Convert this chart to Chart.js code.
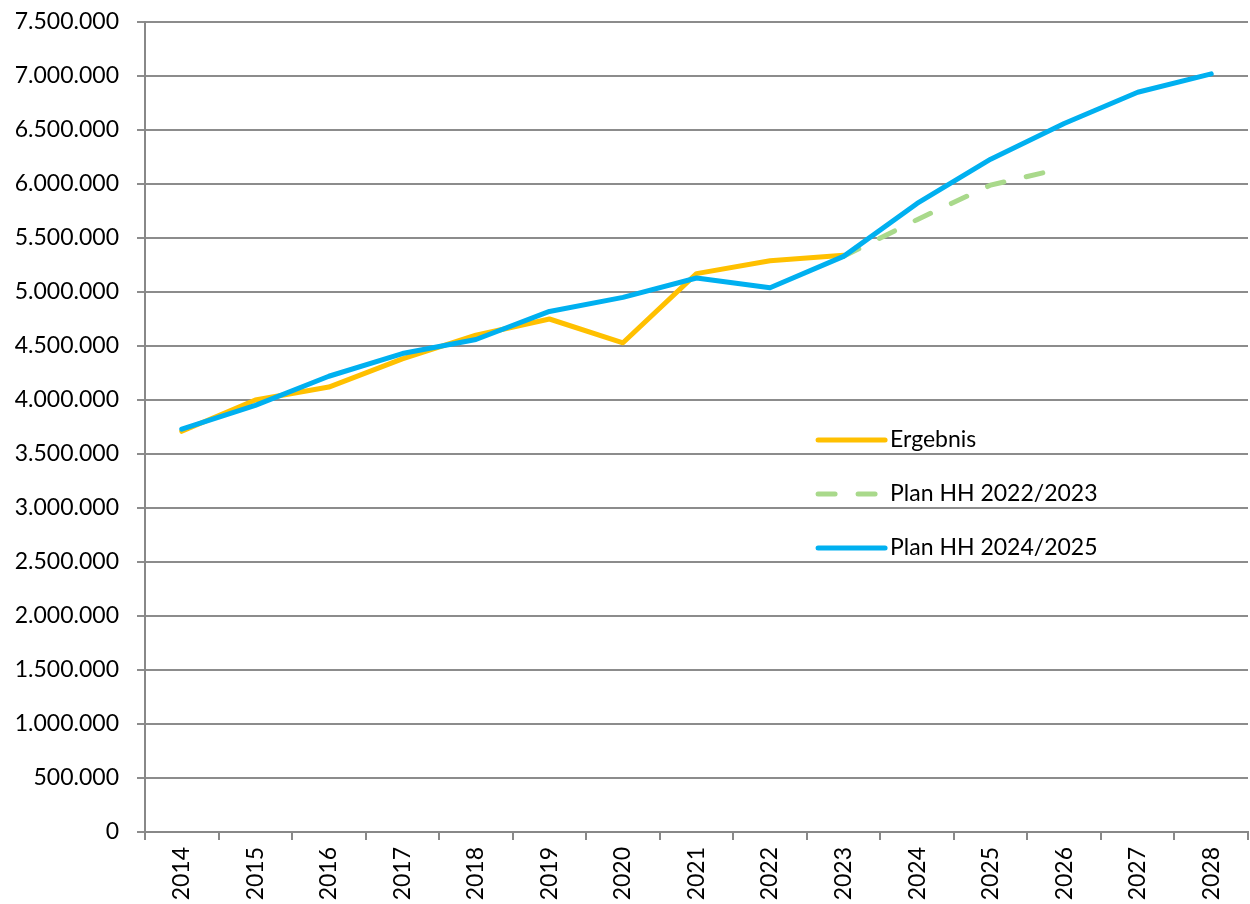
<!DOCTYPE html>
<html>
<head>
<meta charset="utf-8">
<script src="https://cdn.jsdelivr.net/npm/chart.js@4.4.1/dist/chart.umd.min.js"></script>
<style>
html,body{margin:0;padding:0;background:#fff;}
#wrap{width:1250px;height:904px;position:relative;}
</style>
</head>
<body>
<div id="wrap"><canvas id="c" width="1250" height="904"></canvas></div>
<script>
const years = ["2014","2015","2016","2017","2018","2019","2020","2021","2022","2023","2024","2025","2026","2027","2028"];
const ergebnis = [3710000,4000000,4120000,4380000,4600000,4750000,4530000,5170000,5290000,5340000,null,null,null,null,null];
const plan2223 = [null,null,null,null,null,null,null,null,null,5330000,5670000,5990000,6150000,null,null];
const plan2425 = [3730000,3950000,4220000,4430000,4560000,4820000,4950000,5130000,5040000,5330000,5820000,6230000,6560000,6850000,7020000];
const seriesLabels = ["Ergebnis","Plan HH 2022/2023","Plan HH 2024/2025"];
const FONT = "Lato, 'Liberation Sans', sans-serif";

function fmt(v){ return String(v).replace(/\B(?=(\d{3})+(?!\d))/g, "."); }

const legendPlugin = {
  id: 'insideLegend',
  afterDatasetsDraw(chart){
    const ctx = chart.ctx, ca = chart.chartArea;
    const x0 = ca.left + (ca.right - ca.left) * 0.6075;
    const y0 = ca.top + (ca.bottom - ca.top) * 0.516;
    const step = 54, len = 70;
    ctx.save();
    ctx.font = "23px " + FONT;
    ctx.textBaseline = 'middle';
    chart.data.datasets.forEach((ds, i) => {
      const y = y0 + i * step;
      ctx.beginPath();
      ctx.strokeStyle = ds.borderColor;
      ctx.lineWidth = ds.borderWidth;
      ctx.lineCap = 'round';
      ctx.setLineDash(ds.borderDash || []);
      ctx.moveTo(x0 + 3, y);
      ctx.lineTo(x0 + len, y);
      ctx.stroke();
      ctx.setLineDash([]);
      ctx.fillStyle = '#000';
      ctx.fillText(ds.label, x0 + len + 5, y);
    });
    ctx.restore();
  }
};

new Chart(document.getElementById('c'), {
  type: 'line',
  data: {
    labels: years,
    datasets: [
      {label: seriesLabels[0], data: ergebnis, borderColor: '#FFC000', backgroundColor: '#FFC000', borderWidth: 5, pointRadius: 0, tension: 0, order: 2, borderCapStyle: 'round', borderJoinStyle: 'round'},
      {label: seriesLabels[1], data: plan2223, borderColor: '#A9D98B', backgroundColor: '#A9D98B', borderWidth: 5, pointRadius: 0, tension: 0, order: 1, borderDash: [17, 23], borderCapStyle: 'round'},
      {label: seriesLabels[2], data: plan2425, borderColor: '#00B0F0', backgroundColor: '#00B0F0', borderWidth: 5, pointRadius: 0, tension: 0, order: 0, borderCapStyle: 'round', borderJoinStyle: 'round'}
    ]
  },
  options: {
    responsive: false,
    animation: false,
    layout: {padding: {top: 22, right: 2, left: 0, bottom: 0}},
    plugins: {legend: {display: false}, tooltip: {enabled: false}},
    scales: {
      x: {
        offset: true,
        grid: {offset: true, drawOnChartArea: false, drawTicks: true, tickLength: 8, color: '#888888', lineWidth: 2},
        border: {display: true, color: '#888888', width: 2},
        ticks: {minRotation: 90, maxRotation: 90, autoSkip: false, padding: 7, color: '#000', font: {family: FONT, size: 23}},
        afterFit(s){ s.height = 72; s.paddingLeft = 0; s.paddingRight = 0; }
      },
      y: {
        min: 0, max: 7500000,
        ticks: {stepSize: 500000, padding: 18, color: '#000', font: {family: FONT, size: 23}, callback: v => fmt(v)},
        grid: {color: '#8C8C8C', lineWidth: 2, tickLength: 8},
        border: {display: true, color: '#888888', width: 2},
        afterFit(s){ s.width = 145; s.paddingTop = 0; s.paddingBottom = 0; }
      }
    }
  },
  plugins: [legendPlugin]
});
</script>
</body>
</html>
